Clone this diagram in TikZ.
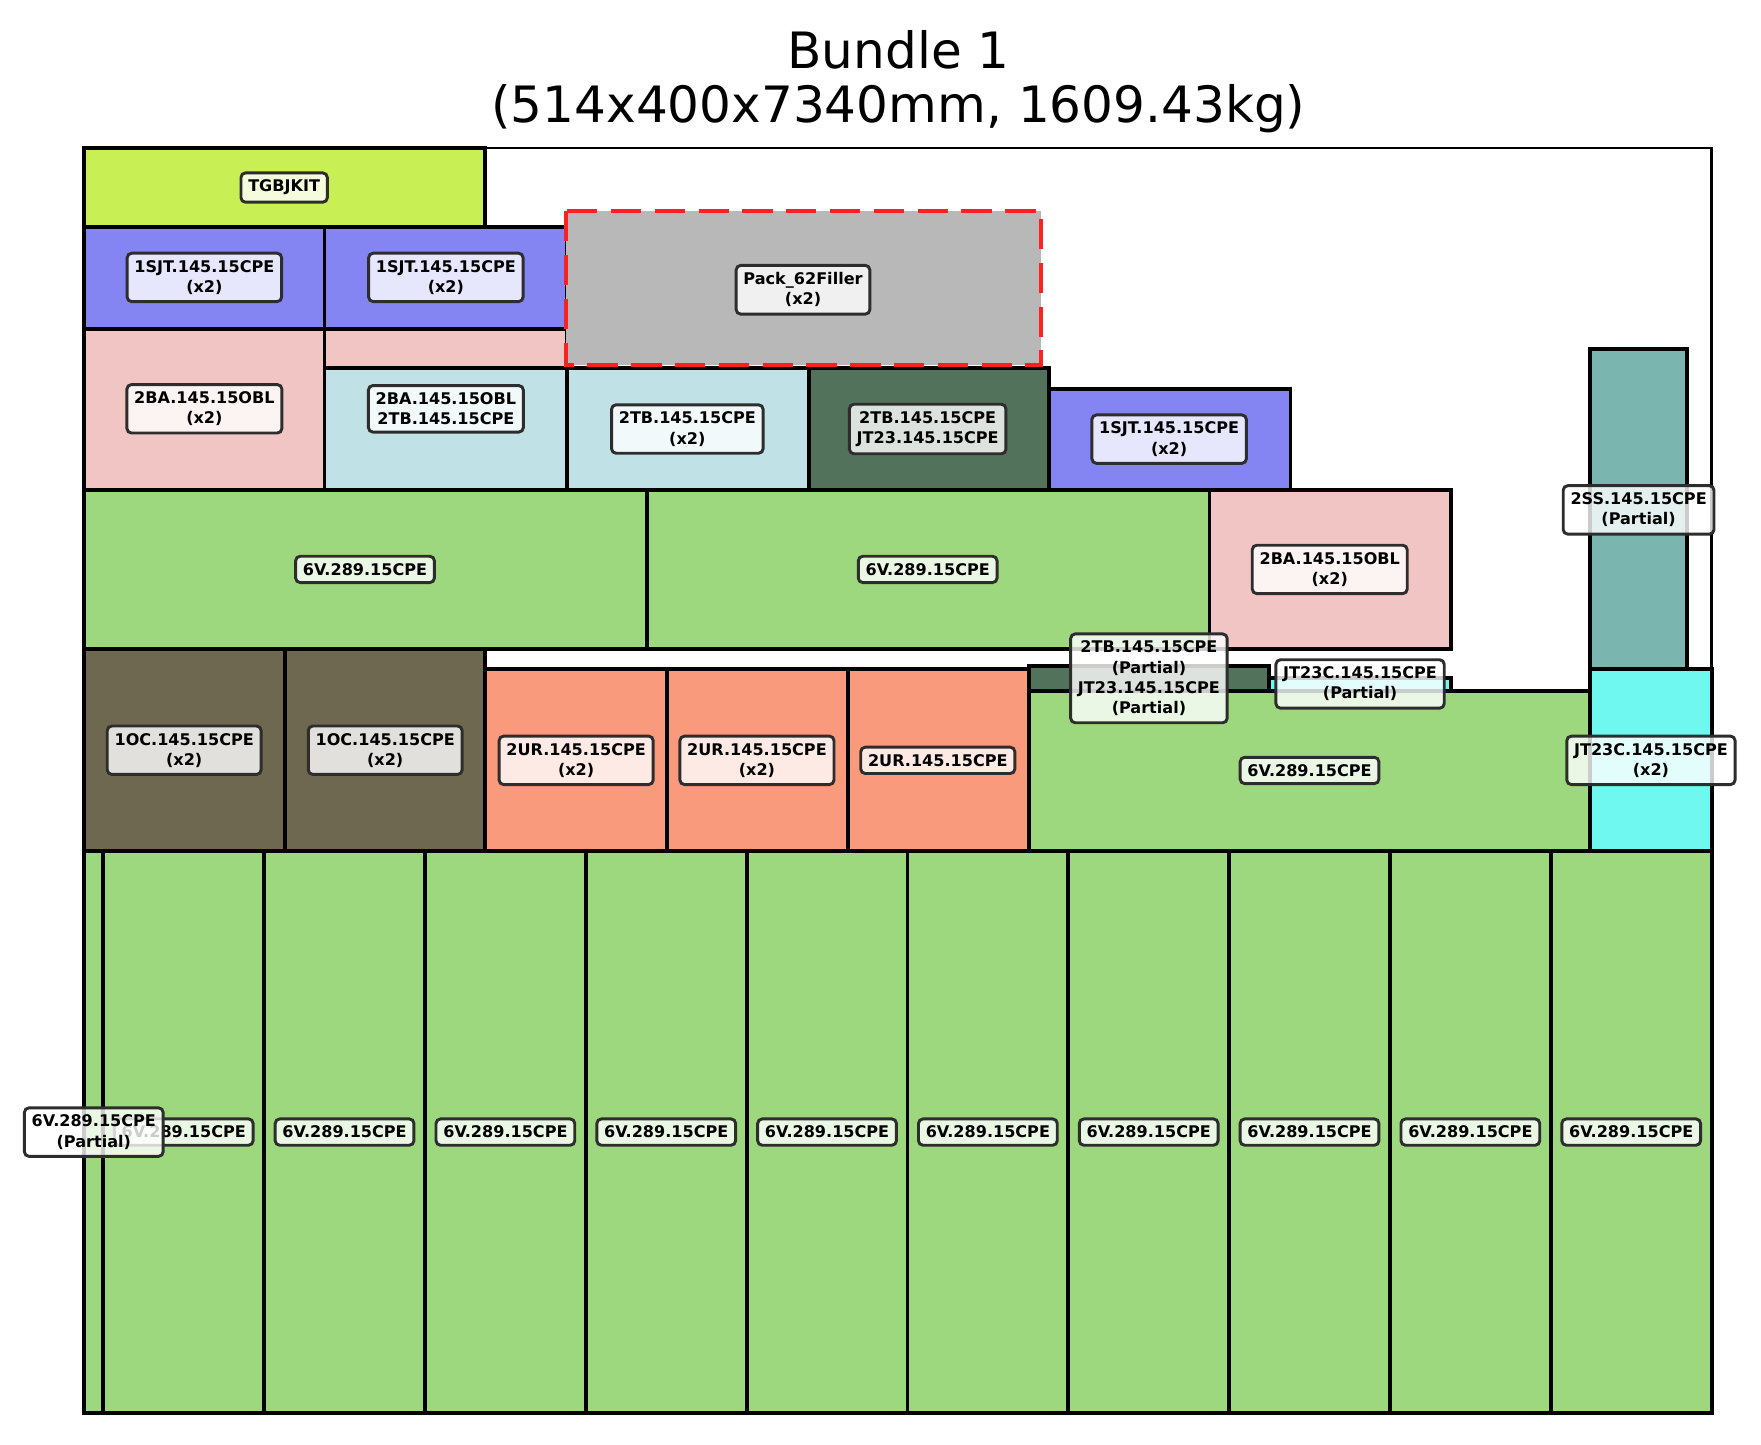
\documentclass[tikz,border=0pt]{standalone}
\usepackage{fontspec}
\setmainfont{DejaVu Sans}
\definecolor{ctgb}{RGB}{200,240,85}
\definecolor{cblue}{RGB}{132,132,242}
\definecolor{cpink}{RGB}{242,197,197}
\definecolor{clblue}{RGB}{192,226,230}
\definecolor{cdgreen}{RGB}{82,114,92}
\definecolor{cgreen}{RGB}{158,216,126}
\definecolor{cteal}{RGB}{122,181,176}
\definecolor{colive}{RGB}{111,104,80}
\definecolor{csalmon}{RGB}{250,154,124}
\definecolor{ccyan}{RGB}{110,248,240}
\definecolor{cgray}{RGB}{184,184,184}
\definecolor{cred}{RGB}{255,32,32}
\definecolor{cedge}{RGB}{45,45,45}
\tikzset{
  pk/.style={draw=black, line width=3.4pt},
  lbl/.style={draw=cedge, line width=2.6pt, fill=white, fill opacity=0.8, text opacity=1,
    rounded corners=4pt, font=\bfseries\fontsize{14.3}{18}\selectfont, align=center,
    inner xsep=6.5pt, inner ysep=6.3pt},
  ttl/.style={font=\fontsize{44.6}{50}\selectfont, anchor=base}
}
\begin{document}
\begin{tikzpicture}[x=1pt,y=-1pt]
\useasboundingbox (0,0) rectangle (1568,1286);
\node[ttl] (t1) at (800,61) {Bundle 1};
\node[ttl] (t2) at (800,109) {(514x400x7340mm, 1609.43kg)};
% container
\path[draw=black, line width=2pt, fill=white] (75,132) rectangle (1524,1258);
% boxes
\path[pk, fill=ctgb] (75,132) rectangle (432,202);
\path[pk, fill=cblue] (75,202) rectangle (289,293);
\path[pk, fill=cblue] (289,202) rectangle (505,293);
\path[pk, fill=cpink] (75,293) rectangle (289,436);
\path[pk, fill=cpink] (289,293) rectangle (505,436);
\path[pk, fill=clblue] (289,328) rectangle (505,436);
\path[pk, fill=clblue] (505,328) rectangle (720,436);
\path[pk, fill=cdgreen] (720,328) rectangle (934,436);
\path[pk, fill=cblue] (934,346) rectangle (1149,436);
\path[fill=cgray, draw=cred, line width=4pt, dash pattern=on 27pt off 12pt] (504,188) rectangle (927,325);
\path[pk, fill=cgreen] (75,436) rectangle (576,578);
\path[pk, fill=cgreen] (576,436) rectangle (1077,578);
\path[pk, fill=cpink] (1077,436) rectangle (1292,578);
\path[pk, fill=cteal] (1416,311) rectangle (1502,596);
\path[pk, fill=colive] (75,578) rectangle (254,758);
\path[pk, fill=colive] (254,578) rectangle (432,758);
\path[pk, fill=csalmon] (432,596) rectangle (594,758);
\path[pk, fill=csalmon] (594,596) rectangle (755,758);
\path[pk, fill=csalmon] (755,596) rectangle (916,758);
\path[pk, fill=cdgreen] (916,593) rectangle (1130,615);
\path[pk, fill=ccyan] (1130,604) rectangle (1292,615);
\path[pk, fill=cgreen] (916,615) rectangle (1416,758);
\path[pk, fill=ccyan] (1416,596) rectangle (1524,758);
\path[pk, fill=cgreen] (75,758) rectangle (92,1258);
\foreach \i in {0,...,9} {
  \path[pk, fill=cgreen] ({92+143.2*\i},758) rectangle ({92+143.2*(\i+1)},1258);
}
% labels
\node[lbl] (l1) at (253,167) {TGBJKIT};
\node[lbl] (l2) at (182,247) {1SJT.145.15CPE\\(x2)};
\node[lbl] (l3) at (397,247) {1SJT.145.15CPE\\(x2)};
\node[lbl] (l4) at (715,258) {Pack\_62Filler\\(x2)};
\node[lbl] (l5) at (182,364) {2BA.145.15OBL\\(x2)};
\node[lbl] (l6) at (397,364) {2BA.145.15OBL\\2TB.145.15CPE};
\node[lbl] (l7) at (612,382) {2TB.145.15CPE\\(x2)};
\node[lbl] (l8) at (826,382) {2TB.145.15CPE\\JT23.145.15CPE};
\node[lbl] (l9) at (1041,391) {1SJT.145.15CPE\\(x2)};
\node[lbl] (l10) at (325,507) {6V.289.15CPE};
\node[lbl] (l11) at (826,507) {6V.289.15CPE};
\node[lbl] (l12) at (1184,507) {2BA.145.15OBL\\(x2)};
\node[lbl] (l13) at (1459,454) {2SS.145.15CPE\\(Partial)};
\node[lbl] (l14) at (164,668) {1OC.145.15CPE\\(x2)};
\node[lbl] (l15) at (343,668) {1OC.145.15CPE\\(x2)};
\node[lbl] (l16) at (513,677) {2UR.145.15CPE\\(x2)};
\node[lbl] (l17) at (674,677) {2UR.145.15CPE\\(x2)};
\node[lbl] (l18) at (835,677) {2UR.145.15CPE};
\node[lbl] (l20) at (1166,686) {6V.289.15CPE};
\node[lbl] (l21) at (1470,677) {JT23C.145.15CPE\\(x2)};
\foreach \i in {0,...,9} {
  \node[lbl] (b\i) at ({92+143.2*(\i+0.5)},1008) {6V.289.15CPE};
}
\node[lbl] (l19) at (1023,604) {2TB.145.15CPE\\(Partial)\\JT23.145.15CPE\\(Partial)};
\node[lbl] (l22) at (1211,609) {JT23C.145.15CPE\\(Partial)};
\node[lbl] (l23) at (83.5,1008) {6V.289.15CPE\\(Partial)};
\end{tikzpicture}
\end{document}
